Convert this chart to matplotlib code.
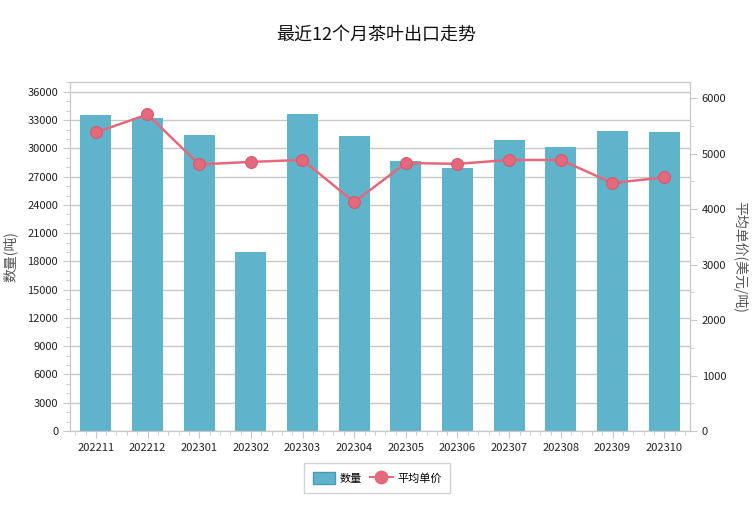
import matplotlib
matplotlib.use("Agg")
import matplotlib.pyplot as plt
from matplotlib.ticker import MultipleLocator
from matplotlib.patches import Patch
from matplotlib.lines import Line2D

plt.rcParams['font.family'] = ['Noto Sans CJK SC', 'DejaVu Sans']

months = ['202211', '202212', '202301', '202302', '202303', '202304',
          '202305', '202306', '202307', '202308', '202309', '202310']
quantity = [33500, 33200, 31400, 19000, 33700, 31300,
            28700, 27900, 30850, 30100, 31800, 31700]
avg_price = [5380, 5705, 4805, 4850, 4885, 4125,
             4830, 4815, 4885, 4885, 4470, 4570]

bar_color = '#5fb3cb'
line_color = '#e5697c'
grid_color = '#c8c8c8'
text_color = '#222222'

fig = plt.figure(figsize=(7.53, 5.07), dpi=100)
ax = fig.add_axes([70/753, 1-431/507, 620/753, 349/507])
x = list(range(len(months)))
ax.bar(x, quantity, width=0.6, color=bar_color, zorder=2)
ax.set_xlim(-0.5, len(months)-0.5)
ax.set_ylim(0, 37050)
ax.yaxis.set_major_locator(MultipleLocator(3000))
ax.yaxis.set_minor_locator(MultipleLocator(1000))
ax.set_xticks(x)
ax.set_xticklabels(months)
ax.xaxis.set_minor_locator(MultipleLocator(0.2))
ax.grid(axis='y', which='major', color=grid_color, linewidth=1, zorder=0)
for s in ax.spines.values():
    s.set_color(grid_color)
ax.tick_params(axis='both', which='both', colors=grid_color, labelcolor=text_color, labelsize=8)
ax.tick_params(axis='both', which='major', length=5)
ax.tick_params(axis='both', which='minor', length=3)
ax.set_ylabel('数量(吨)', color='#555555', fontsize=10, labelpad=7)

ax2 = ax.twinx()
ax2.plot(x, avg_price, color=line_color, linewidth=1.8, marker='o',
         markersize=8.5, markeredgecolor='#d9576c', markeredgewidth=0.8, zorder=3)
ax2.set_ylim(0, 6290)
ax2.yaxis.set_major_locator(MultipleLocator(1000))
ax2.yaxis.set_minor_locator(MultipleLocator(500))
for s in ax2.spines.values():
    s.set_color(grid_color)
ax2.tick_params(axis='y', which='both', colors=grid_color, labelcolor=text_color, labelsize=8)
ax2.tick_params(axis='y', which='major', length=5)
ax2.tick_params(axis='y', which='minor', length=3)
ax2.set_ylabel('平均单价(美元/吨)', color='#555555', fontsize=10, rotation=270, labelpad=15)

fig.suptitle('最近12个月茶叶出口走势', x=376/753, y=1-35/507, va='center',
             fontsize=13, color='#111111')

handles = [Patch(facecolor=bar_color, edgecolor='#4a9ab3'),
           Line2D([0], [0], color=line_color, marker='o', markersize=9, linewidth=1.5)]
leg = fig.legend(handles, ['数量', '平均单价'], loc='center', bbox_to_anchor=(377/753, 1-478/507),
                 ncol=2, fontsize=8, frameon=True, fancybox=False, edgecolor='#c8c8c8',
                 handlelength=2, handleheight=1.2, columnspacing=0.8, handletextpad=0.4,
                 borderpad=0.8)
leg.get_frame().set_linewidth(1)

fig.savefig('out.png', dpi=100)
